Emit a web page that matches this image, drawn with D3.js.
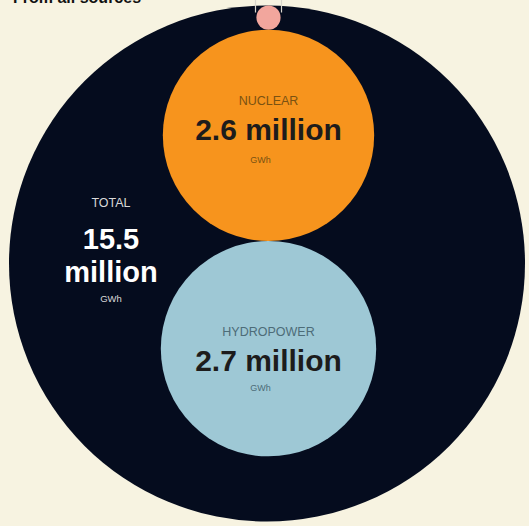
<!DOCTYPE html>
<html>
<head>
<meta charset="utf-8">
<script src="https://cdn.jsdelivr.net/npm/d3@7/dist/d3.min.js"></script>
<style>
  html, body { margin: 0; padding: 0; background: #f7f3e1; }
  svg { display: block; }
</style>
</head>
<body>
<svg id="chart" width="529" height="526"></svg>
<script>
// Electricity generation, million GWh
const categories = ["Total", "Other", "Nuclear", "Hydropower"];
const values = [15.5, 0.034, 2.6, 2.7];
const labels = ["TOTAL", "", "NUCLEAR", "HYDROPOWER"];
const valueText = ["15.5 million", "", "2.6 million", "2.7 million"];
const unitText = "GWh";

const fills = { Total: "#050c1e", Other: "#f2a69d", Nuclear: "#f7941d", Hydropower: "#9ec8d5" };
// Vertical offsets of the label block relative to each circle's centre
const textOffset = { Nuclear: [-30, 5, 28], Hydropower: [-13, 22, 42] };
const labelColor = { Nuclear: "#7a5212", Hydropower: "#4d6c78" };

const svg = d3.select("#chart");
const font = "Liberation Sans, Arial, sans-serif";

// Circle area proportional to value
const r = d3.scaleSqrt().domain([0, d3.max(values)]).range([0, 258]);

const cx = 267, cyTotal = 263.5;
const totalR = r(values[0]);

// Headline, partly cut off at the top edge
svg.append("text")
  .attr("x", 13).attr("y", 2.5)
  .attr("font-family", font)
  .attr("font-weight", "bold").attr("font-size", 16)
  .attr("fill", "#111")
  .text("From all sources");

// Big total circle
svg.append("circle")
  .attr("cx", cx).attr("cy", cyTotal).attr("r", totalR)
  .attr("fill", fills.Total);

// Component circles stacked from the top of the total circle downward
const parts = categories.slice(1).map((c, i) => ({
  cat: c, value: values[i + 1], label: labels[i + 1], vtext: valueText[i + 1]
}));
let yTop = cyTotal - totalR;
parts.forEach(p => {
  p.r = r(p.value);
  p.cy = yTop + p.r;
  p.cx = cx + 1.5;
  yTop += 2 * p.r;
});

svg.selectAll("circle.part").data(parts).join("circle")
  .attr("class", "part")
  .attr("cx", d => d.cx).attr("cy", d => d.cy).attr("r", d => d.r)
  .attr("fill", d => fills[d.cat]);

// Small bracket above the smallest circle
const small = parts[0];
svg.append("path")
  .attr("d", `M${small.cx - 13},0 V${small.cy - 5} M${small.cx + 13},0 V${small.cy - 5}`)
  .attr("stroke", "#d9d6cc").attr("stroke-width", 1.2).attr("fill", "none");

// Labels inside the component circles
parts.filter(p => p.label).forEach(p => {
  const off = textOffset[p.cat];
  const g = svg.append("g").attr("text-anchor", "middle").attr("font-family", font);
  g.append("text").attr("x", p.cx).attr("y", p.cy + off[0])
    .attr("font-size", 12.5).attr("fill", labelColor[p.cat]).text(p.label);
  g.append("text").attr("x", p.cx).attr("y", p.cy + off[1])
    .attr("font-size", 30).attr("font-weight", "bold").attr("fill", "#1d1c1c")
    .text(p.vtext);
  g.append("text").attr("x", p.cx - 8).attr("y", p.cy + off[2])
    .attr("font-size", 9).attr("fill", labelColor[p.cat]).text(unitText);
});

// Total label on the left of the big circle
const tx = 111;
const tg = svg.append("g").attr("text-anchor", "middle").attr("font-family", font);
tg.append("text").attr("x", tx).attr("y", 207)
  .attr("font-size", 12.5).attr("fill", "#d9d9d9").text(labels[0]);
const vt = valueText[0].split(" ");
tg.append("text").attr("x", tx).attr("y", 249)
  .attr("font-size", 29).attr("font-weight", "bold").attr("fill", "#ffffff").text(vt[0]);
tg.append("text").attr("x", tx).attr("y", 282)
  .attr("font-size", 29).attr("font-weight", "bold").attr("fill", "#ffffff").text(vt[1]);
tg.append("text").attr("x", tx).attr("y", 302)
  .attr("font-size", 9.5).attr("fill", "#d9d9d9").text(unitText);
</script>
</body>
</html>
